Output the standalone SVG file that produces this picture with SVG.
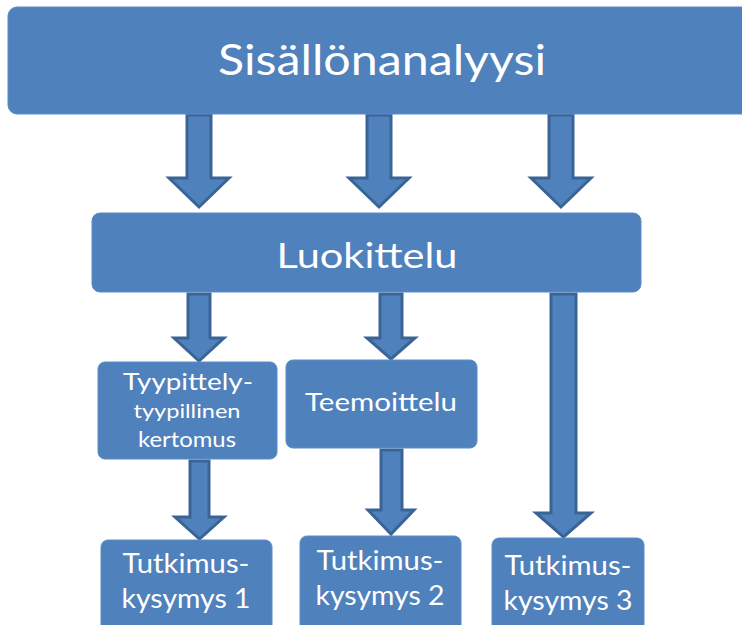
<svg xmlns="http://www.w3.org/2000/svg" width="742" height="625" viewBox="0 0 742 625">
<style>
.box{fill:#4f81bd;stroke:#5b8cc6;stroke-width:1}
.arr{fill:#4f81bd;stroke:#3a6496;stroke-width:3;stroke-linejoin:miter}
text{fill:#ffffff;font-family:Lato,"Open Sans","DejaVu Sans",sans-serif;text-anchor:middle}
</style>
<rect width="742" height="625" fill="#ffffff"/>
<g id="connectors">
<path class="arr" d="M187 115 H211 V178 H229 L199 207 L169 178 H187 Z"/>
<path class="arr" d="M367 115 H391 V178 H409 L379 207 L349 178 H367 Z"/>
<path class="arr" d="M549 115 H573 V178 H591 L561 207 L531 178 H549 Z"/>
<path class="arr" d="M188 294 H210 V338 H224 L199 361 L174 338 H188 Z"/>
<path class="arr" d="M380 294 H402 V338 H415 L391 359 L367 338 H380 Z"/>
<path class="arr" d="M551 294 H576 V513 H591 L563.5 537 L536 513 H551 Z"/>
<path class="arr" d="M190 461 H209 V517 H224 L199.5 539 L175 517 H190 Z"/>
<path class="arr" d="M381 450 H402 V510 H414 L391 534 L368 510 H381 Z"/>
</g>
<g id="node-sisallonanalyysi">
<rect class="box" x="8" y="7" width="745" height="107" rx="9"/>
<text x="382" y="75" font-size="42" textLength="328" lengthAdjust="spacingAndGlyphs">Sisällönanalyysi</text>
</g>
<g id="node-luokittelu">
<rect class="box" x="92" y="213" width="549" height="79" rx="8"/>
<text x="367" y="268" font-size="35" textLength="181" lengthAdjust="spacingAndGlyphs">Luokittelu</text>
</g>
<g id="node-tyypittely">
<rect class="box" x="98" y="362" width="179" height="97" rx="7"/>
<text x="188" y="390" font-size="24" textLength="130" lengthAdjust="spacingAndGlyphs">Tyypittely-</text>
<text x="187" y="418" font-size="20" textLength="107" lengthAdjust="spacingAndGlyphs">tyypillinen</text>
<text x="187" y="447" font-size="21" textLength="98" lengthAdjust="spacingAndGlyphs">kertomus</text>
</g>
<g id="node-teemoittelu">
<rect class="box" x="286" y="360" width="191" height="88" rx="7"/>
<text x="381" y="411" font-size="25" textLength="152" lengthAdjust="spacingAndGlyphs">Teemoittelu</text>
</g>
<g id="node-tutkimus1">
<rect class="box" x="101" y="540" width="171" height="95" rx="7"/>
<text x="186" y="573" font-size="26" textLength="127" lengthAdjust="spacingAndGlyphs">Tutkimus-</text>
<text x="186" y="608" font-size="26" textLength="129" lengthAdjust="spacingAndGlyphs">kysymys 1</text>
</g>
<g id="node-tutkimus2">
<rect class="box" x="300" y="536" width="161" height="99" rx="7"/>
<text x="380" y="570" font-size="26" textLength="127" lengthAdjust="spacingAndGlyphs">Tutkimus-</text>
<text x="380" y="605" font-size="26" textLength="129" lengthAdjust="spacingAndGlyphs">kysymys 2</text>
</g>
<g id="node-tutkimus3">
<rect class="box" x="492" y="538" width="152" height="97" rx="7"/>
<text x="568" y="575" font-size="26" textLength="127" lengthAdjust="spacingAndGlyphs">Tutkimus-</text>
<text x="568" y="610" font-size="26" textLength="129" lengthAdjust="spacingAndGlyphs">kysymys 3</text>
</g>
</svg>
